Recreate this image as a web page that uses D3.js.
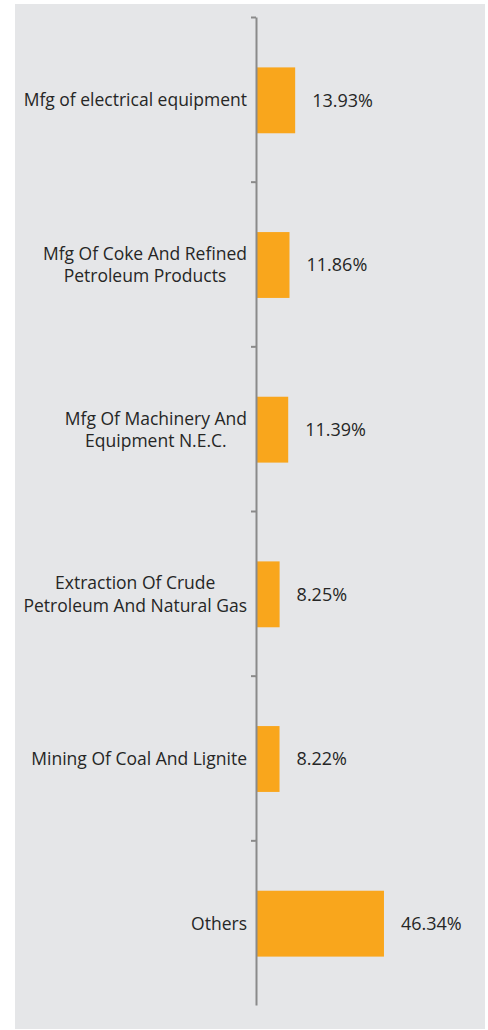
<!DOCTYPE html>
<html>
<head>
<meta charset="utf-8">
<script src="https://cdn.jsdelivr.net/npm/d3@7"></script>
<style>
  body { margin: 0; background: #fff; }
  text { font-family: "Open Sans", sans-serif; fill: #262626; }
</style>
</head>
<body>
<svg width="488" height="1030"></svg>
<script>
var categories = [
	"Mfg of electrical equipment",
	"Mfg Of Coke And Refined\nPetroleum Products",
	"Mfg Of Machinery And\nEquipment N.E.C.",
	"Extraction Of Crude\nPetroleum And Natural Gas",
	"Mining Of Coal And Lignite",
	"Others"
];
var values = [13.93, 11.86, 11.39, 8.25, 8.22, 46.34];
var valueLabels = ["13.93%", "11.86%", "11.39%", "8.25%", "8.22%", "46.34%"];

function main() {
	var svg = d3.select("svg");

	// grey panel
	svg.append("rect").attr("x", 15).attr("y", 4).attr("width", 470).attr("height", 1025).attr("fill", "#e5e6e8");

	var top = 17, bottom = 1005, axisX = 256;

	var yScale = d3.scaleBand().domain(categories).range([top + 1, bottom + 1]).paddingInner(0.6).paddingOuter(0.3);
	var idxScale = d3.scaleLinear().domain([0, categories.length]).range([top, bottom]);
	var xScale = d3.scaleLinear().domain([0, 50]).range([axisX + 1, axisX + 138]);

	var g = svg.append("g");

	g.selectAll(".bar")
		.data(values)
		.enter().append("rect")
		.attr("class", "bar")
		.attr("x", xScale(0))
		.attr("y", function(d, i){ return yScale(categories[i]); })
		.attr("width", function(d){ return xScale(d) - xScale(0); })
		.attr("height", yScale.bandwidth())
		.attr("fill", "#f9a61c");

	var axis = g.append("g").attr("transform", "translate(" + axisX + ",0)")
		.call(d3.axisLeft(idxScale).tickValues([0, 1, 2, 3, 4, 5]).tickFormat("").tickSize(5).tickSizeOuter(0));
	axis.select(".domain").attr("stroke", "#8a8a8a").attr("stroke-width", 2);
	axis.selectAll(".tick line").attr("stroke", "#8a8a8a").attr("stroke-width", 2);

	// value labels
	g.selectAll(".val")
		.data(values)
		.enter().append("text")
		.attr("class", "val")
		.attr("x", function(d){ return xScale(d) + 17; })
		.attr("y", function(d, i){ return yScale(categories[i]) + yScale.bandwidth() / 2; })
		.attr("dy", "0.35em")
		.attr("font-size", "18px")
		.text(function(d, i){ return valueLabels[i]; });

	// category labels, right aligned block, lines centred
	var lineH = 22.5;
	categories.forEach(function(c) {
		var lines = c.split("\n");
		var cy = yScale(c) + yScale.bandwidth() / 2;
		var t = g.append("text").attr("font-size", "17.5px").attr("text-anchor", "middle");
		lines.forEach(function(l, j) {
			t.append("tspan").attr("y", cy + (j - (lines.length - 1) / 2) * lineH).attr("dy", "0.35em").text(l);
		});
		var w = d3.max(t.selectAll("tspan").nodes(), function(n){ return n.getComputedTextLength(); });
		t.selectAll("tspan").attr("x", axisX - 9 - w / 2);
	});
}
main();
</script>
</body>
</html>
